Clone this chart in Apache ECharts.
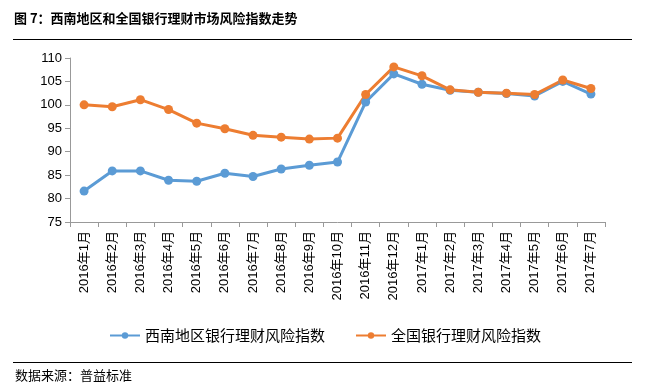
<!DOCTYPE html>
<html><head><meta charset="utf-8">
<script src="https://cdn.jsdelivr.net/npm/echarts@6/dist/echarts.min.js"></script>
<style>html,body{margin:0;padding:0;background:#fff}#c{width:650px;height:390px}</style>
</head><body><div id="c"></div>
<script>
var categories = ['2016年1月','2016年2月','2016年3月','2016年4月','2016年5月','2016年6月','2016年7月','2016年8月','2016年9月','2016年10月','2016年11月','2016年12月','2017年1月','2017年2月','2017年3月','2017年4月','2017年5月','2017年6月','2017年7月'];
var southwest = [81.6,85.9,85.9,83.9,83.7,85.4,84.7,86.3,87.1,87.8,100.6,106.6,104.4,103.1,102.7,102.4,101.9,105.0,102.3];
var national = [100.0,99.6,101.1,99.0,96.1,94.9,93.5,93.1,92.7,92.9,102.2,108.1,106.2,103.2,102.7,102.5,102.2,105.3,103.5];
var seriesNames = ['西南地区银行理财风险指数','全国银行理财风险指数'];
var yTicks = [75,80,85,90,95,100,105,110];
var cjk = '"Noto Sans CJK SC", sans-serif';
var chart = echarts.init(document.getElementById('c'));
chart.setOption({
  animation:false,
  backgroundColor:'#fff',
  graphic:[
    {type:'text',left:14,top:12,style:{text:'图 7：西南地区和全国银行理财市场风险指数走势',font:'bold 13px '+cjk,fill:'#000'}},
    {type:'line',shape:{x1:13,y1:39.5,x2:632,y2:39.5},style:{stroke:'#000',lineWidth:1.2}},
    {type:'line',shape:{x1:13,y1:362.5,x2:632,y2:362.5},style:{stroke:'#000',lineWidth:1.2}},
    {type:'text',left:15,top:369,style:{text:'数据来源：普益标准',font:'13px '+cjk,fill:'#000'}}
  ],
  legend:{
    bottom:42, left:'center', itemGap:30, itemWidth:30, itemHeight:8,
    textStyle:{fontFamily:cjk,fontSize:15,color:'#000'},
    data:seriesNames
  },
  grid:{left:70,right:45,top:58,bottom:168},
  xAxis:{
    type:'category', data:categories, boundaryGap:true,
    axisLine:{lineStyle:{color:'#999'}},
    axisTick:{show:true,length:5,lineStyle:{color:'#999'}},
    axisLabel:{rotate:90,interval:0,fontSize:13,color:'#000',fontFamily:'"Liberation Sans", Arial, '+cjk,margin:9}
  },
  yAxis:{
    type:'value', min:yTicks[0], max:yTicks[yTicks.length-1], interval:5,
    splitLine:{show:false},
    axisLine:{show:true,lineStyle:{color:'#999'}},
    axisTick:{show:true,length:5,lineStyle:{color:'#999'}},
    axisLabel:{fontSize:13,color:'#000',fontFamily:'"Liberation Sans", Arial'}
  },
  series:[
    {name:seriesNames[0],type:'line',data:southwest,symbol:'circle',symbolSize:9,
     lineStyle:{width:3,color:'#5B9BD5'},itemStyle:{color:'#5B9BD5'}},
    {name:seriesNames[1],type:'line',data:national,symbol:'circle',symbolSize:9,
     lineStyle:{width:3,color:'#ED7D31'},itemStyle:{color:'#ED7D31'}}
  ]
});
</script></body></html>
